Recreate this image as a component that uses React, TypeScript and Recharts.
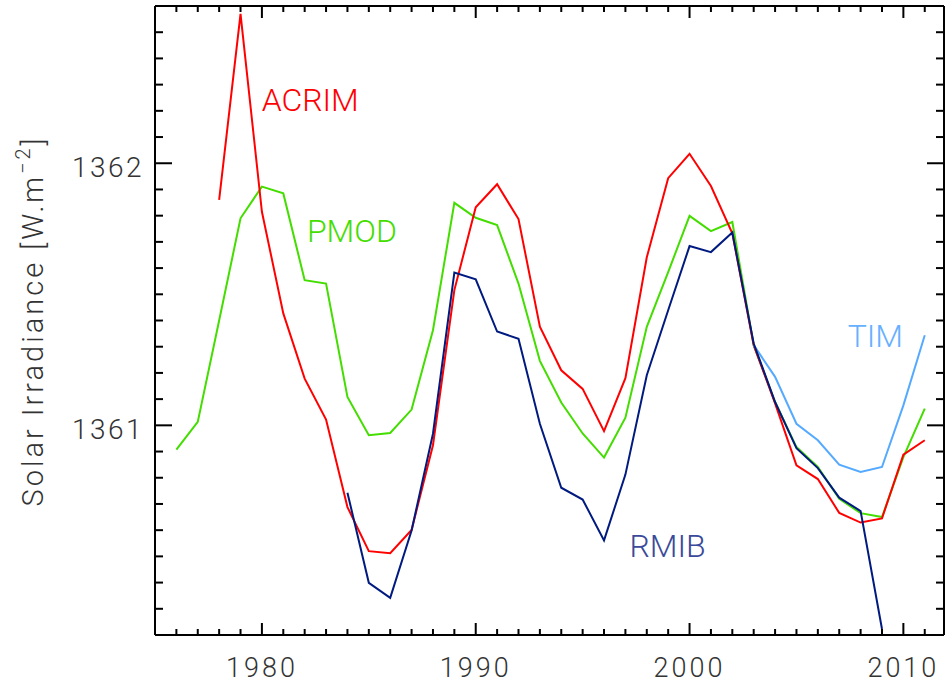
import React from 'react';
import { LineChart, Line, XAxis, YAxis, ReferenceDot } from 'recharts';

// yearly composites of total solar irradiance, W/m^2
const years = [
  1976, 1977, 1978, 1979, 1980, 1981, 1982, 1983, 1984, 1985, 1986, 1987,
  1988, 1989, 1990, 1991, 1992, 1993, 1994, 1995, 1996, 1997, 1998, 1999,
  2000, 2001, 2002, 2003, 2004, 2005, 2006, 2007, 2008, 2009, 2010, 2011,
];

// ACRIM: 1978-2011
const acrimStart = 1978;
const acrim = [
  1361.86, 1362.57, 1361.815, 1361.427, 1361.178, 1361.022, 1360.688, 1360.52,
  1360.512, 1360.601, 1360.924, 1361.516, 1361.832, 1361.92, 1361.787, 1361.376,
  1361.21, 1361.139, 1360.978, 1361.18, 1361.641, 1361.943, 1362.036, 1361.913,
  1361.733, 1361.306, 1361.084, 1360.847, 1360.795, 1360.666, 1360.629, 1360.645,
  1360.888, 1360.943,
];

// PMOD: 1976-2011
const pmodStart = 1976;
const pmod = [
  1360.907, 1361.013, 1361.4, 1361.79, 1361.911, 1361.885, 1361.554, 1361.541,
  1361.108, 1360.962, 1360.971, 1361.06, 1361.363, 1361.849, 1361.792, 1361.764,
  1361.541, 1361.246, 1361.087, 1360.969, 1360.877, 1361.029, 1361.376, 1361.585,
  1361.799, 1361.741, 1361.776, 1361.306, 1361.089, 1360.917, 1360.841, 1360.72,
  1360.665, 1360.65, 1360.879, 1361.064,
];

// RMIB: 1984-2009
const rmibStart = 1984;
const rmib = [
  1360.743, 1360.399, 1360.342, 1360.599, 1360.968, 1361.583, 1361.557, 1361.358,
  1361.33, 1361.006, 1360.762, 1360.717, 1360.561, 1360.812, 1361.191, 1361.439,
  1361.684, 1361.661, 1361.736, 1361.312, 1361.089, 1360.913, 1360.837, 1360.724,
  1360.673, 1360.223,
];

// TIM: 2003-2011
const timStart = 2003;
const tim = [
  1361.306, 1361.185, 1361.006, 1360.943, 1360.85, 1360.822, 1360.841, 1361.076,
  1361.344,
];

const xTicks = years;
const yTicks = [
  1360.3, 1360.4, 1360.5, 1360.6, 1360.7, 1360.8, 1360.9, 1361.0, 1361.1,
  1361.2, 1361.3, 1361.4, 1361.5, 1361.6, 1361.7, 1361.8, 1361.9, 1362.0,
  1362.1, 1362.2, 1362.3, 1362.4, 1362.5,
];

// series name tags, placed in data coordinates
const tags = [
  { text: 'ACRIM', year: 1982.26, value: 1362.242, color: '#ff0000' },
  { text: 'PMOD', year: 1984.21, value: 1361.743, color: '#44dd00' },
  { text: 'RMIB', year: 1998.97, value: 1360.541, color: '#3a4a9a' },
  { text: 'TIM', year: 2008.69, value: 1361.344, color: '#66b0ff' },
];

const pick = (arr: number[], start: number, yr: number) => {
  const i = yr - start;
  return i >= 0 && i < arr.length ? arr[i] : null;
};

const data = years.map((yr) => ({
  year: yr,
  acrim: pick(acrim, acrimStart, yr),
  pmod: pick(pmod, pmodStart, yr),
  rmib: pick(rmib, rmibStart, yr),
  tim: pick(tim, timStart, yr),
}));

const FONT = 'Roboto, "Liberation Sans", sans-serif';
const TXT = '#333';

const isMajorY = (v: number) => Math.abs(v - Math.round(v)) < 1e-6;

const BottomTick = (p: any) => {
  const major = p.payload.value % 10 === 0;
  return (
    <g>
      <line x1={p.x} x2={p.x} y1={p.y} y2={p.y - (major ? 12 : 6)} stroke="#000" strokeWidth={2} />
      {major && (
        <text x={p.x} y={p.y + 42} textAnchor="middle" fontSize={27} fontFamily={FONT}
          fontWeight={300} letterSpacing={3} fill={TXT}>
          {p.payload.value}
        </text>
      )}
    </g>
  );
};

const TopTick = (p: any) => {
  const major = p.payload.value % 10 === 0;
  return <line x1={p.x} x2={p.x} y1={p.y} y2={p.y + (major ? 12 : 6)} stroke="#000" strokeWidth={2} />;
};

const LeftTick = (p: any) => {
  const major = isMajorY(p.payload.value);
  return (
    <g>
      <line x1={p.x} x2={p.x + (major ? 17 : 8)} y1={p.y} y2={p.y} stroke="#000" strokeWidth={2} />
      {major && (
        <text x={p.x - 11} y={p.y + 13.5} textAnchor="end" fontSize={28} fontFamily={FONT}
          fontWeight={300} letterSpacing={2.5} fill={TXT}>
          {Math.round(p.payload.value)}
        </text>
      )}
    </g>
  );
};

const RightTick = (p: any) => {
  const major = isMajorY(p.payload.value);
  return <line x1={p.x} x2={p.x - (major ? 17 : 8)} y1={p.y} y2={p.y} stroke="#000" strokeWidth={2} />;
};

const YTitle = () => (
  <text x={43} y={321} transform="rotate(-90, 43, 321)" textAnchor="middle" fontSize={29}
    fontFamily={FONT} fontWeight={300} letterSpacing={3} fill={TXT}>
    Solar Irradiance [W.m
    <tspan dy={-13} fontSize={20}>−2</tspan>
    <tspan dy={13}>]</tspan>
  </text>
);

const axisLine = { stroke: '#000', strokeWidth: 2 };

export default function App() {
  return (
    <div style={{ position: 'absolute', left: 0, top: 0, background: '#fff' }}>
      <LineChart width={945} height={683} data={data}
        margin={{ top: 5, right: 0, bottom: 47, left: 154 }}>
        <XAxis dataKey="year" type="number" domain={[1975, 2011.9]} ticks={xTicks}
          allowDataOverflow interval={0} height={1} tickSize={0} tickMargin={0}
          axisLine={axisLine} tickLine={false} tick={BottomTick} />
        <XAxis xAxisId="top" orientation="top" dataKey="year" type="number"
          domain={[1975, 2011.9]} ticks={xTicks} allowDataOverflow interval={0}
          height={1} tickSize={0} tickMargin={0} axisLine={axisLine} tickLine={false}
          tick={TopTick} />
        <YAxis type="number" domain={[1360.2, 1362.6]} ticks={yTicks} allowDataOverflow
          interval={0} width={1} tickSize={0} tickMargin={0} axisLine={axisLine}
          tickLine={false} tick={LeftTick} label={{ content: YTitle }} />
        <YAxis yAxisId="right" orientation="right" type="number" domain={[1360.2, 1362.6]}
          ticks={yTicks} allowDataOverflow interval={0} width={1} tickSize={0}
          tickMargin={0} axisLine={axisLine} tickLine={false} tick={RightTick} />
        <Line dataKey="pmod" stroke="#44dd00" strokeWidth={2} dot={false} isAnimationActive={false} type="linear" />
        <Line dataKey="acrim" stroke="#ff0000" strokeWidth={2} dot={false} isAnimationActive={false} type="linear" />
        <Line dataKey="tim" stroke="#55aaff" strokeWidth={2} dot={false} isAnimationActive={false} type="linear" />
        <Line dataKey="rmib" stroke="#001a80" strokeWidth={2} dot={false} isAnimationActive={false} type="linear" />
        {tags.map((t) => (
          <ReferenceDot key={t.text} x={t.year} y={t.value} r={0} ifOverflow="visible"
            shape={(p: any) => (
              <text x={p.cx} y={p.cy + 11.5} textAnchor="middle" fontSize={32}
                fontFamily={FONT} fontWeight={300} fill={t.color}>
                {t.text}
              </text>
            )} />
        ))}
      </LineChart>
    </div>
  );
}
